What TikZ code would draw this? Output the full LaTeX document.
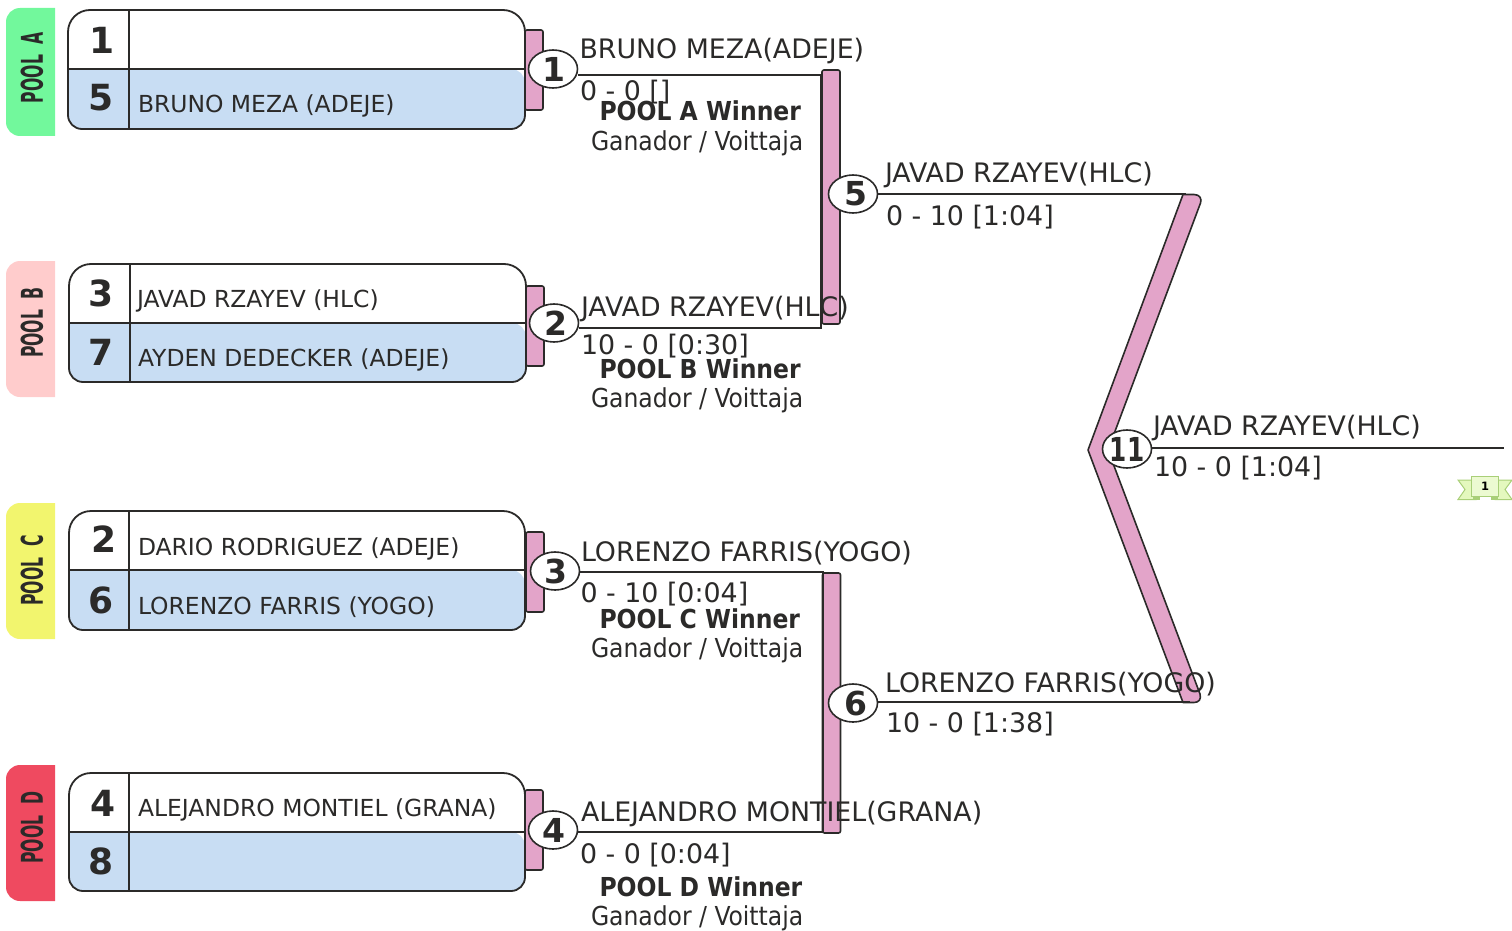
\documentclass[tikz,border=0pt]{standalone}
\usepackage{fontspec}
\setmainfont{DejaVu Sans}
\newfontfamily\cond{DejaVu Sans Condensed}
\usetikzlibrary{shapes.geometric}
\definecolor{ink}{HTML}{2B2A29}
\definecolor{rowblue}{HTML}{C8DDF3}
\definecolor{barpink}{HTML}{E3A4C9}
\definecolor{poola}{HTML}{72F89C}
\definecolor{poolb}{HTML}{FFCCCC}
\definecolor{poolc}{HTML}{F2F56E}
\definecolor{poold}{HTML}{EF4A60}
\definecolor{ribbon}{HTML}{E4F8BE}
\definecolor{ribbonline}{HTML}{A9CF78}
\newcommand{\fs}[1]{\fontsize{#1}{#1}\selectfont}
\tikzset{
  x=1pt,y=-1pt,
  txt/.style={inner sep=0pt,outer sep=0pt,anchor=base west,text=ink},
  player/.style={txt,font=\fs{23.45}},
  winner/.style={txt,font=\fs{26.8}},
  score/.style={txt,font=\fs{26.85}},
  pooltitle/.style={txt,font=\cond\bfseries\fs{26.1}},
  poolsub/.style={txt,font=\cond\fs{26.1}},
  seed/.style={inner sep=0pt,text=ink,font=\bfseries\fs{36}},
  poollabel/.style={inner sep=0pt,text=ink,rotate=90,font=\cond\bfseries\fs{30}},
  bout/.style={ellipse,draw=ink,fill=white,line width=1.6pt,minimum width=49pt,minimum height=38pt,inner sep=0pt,text=ink,font=\bfseries\fs{33}},
  barbox/.style={rectangle,draw=ink,fill=barpink,line width=1.6pt,rounded corners=2pt,inner sep=0pt},
  wire/.style={draw=ink,line width=1.6pt},
  frame/.style={draw=ink,line width=1.8pt},
  ribbonpart/.style={draw=ribbonline,fill=ribbon,line width=1pt},
}
\newcommand{\pooltab}[3]{% ytop ybot colour
  \fill[#3,rounded corners=14pt] (55,#1) [sharp corners] -- (30,#1) [rounded corners=14pt] -- (6,#1) -- (6,#2) [sharp corners] -- (30,#2) -- (55,#2) -- cycle;
}
\newcommand{\entry}[6]{% x0 x1 ytop ymid ybot xv
  \fill[white,rounded corners=22pt] (#1,#4) -- (#1,#3) -- (#2,#3) -- (#2,#4) [sharp corners] -- cycle;
  \fill[rowblue,rounded corners=14pt] (#1,#4) -- (#1,#5) -- (#2,#5) -- (#2,#4) [sharp corners] -- cycle;
  \draw[frame,rounded corners=22pt] (#1,#4) -- (#1,#3) -- (#2,#3) -- (#2,#4);
  \draw[frame,rounded corners=14pt] (#2,#4) -- (#2,#5) -- (#1,#5) -- (#1,#4);
  \draw[frame] (#1,#4) -- (#2,#4);
  \draw[frame,line width=1.4pt] (#6,#3) -- (#6,#5);
}
\begin{document}
\begin{tikzpicture}
\useasboundingbox (0,0) rectangle (1512,931);
% pool tabs
\pooltab{8}{136}{poola}
\pooltab{261}{397}{poolb}
\pooltab{503}{639}{poolc}
\pooltab{765}{901}{poold}
\node[poollabel] (pa) at (32,67.5) {\scalebox{0.58}[1]{POOL\ \ A}};
\node[poollabel] (pb) at (32,322.5) {\scalebox{0.58}[1]{POOL\ \ B}};
\node[poollabel] (pc) at (32,570.5) {\scalebox{0.58}[1]{POOL\ \ C}};
\node[poollabel] (pd) at (32,827.5) {\scalebox{0.58}[1]{POOL\ \ D}};
% first-round bars
\node[barbox,minimum width=18pt,minimum height=80pt] (b1) at (534,70) {};
\node[barbox,minimum width=18pt,minimum height=80pt] (b2) at (535,326) {};
\node[barbox,minimum width=18pt,minimum height=80pt] (b3) at (535,572) {};
\node[barbox,minimum width=18pt,minimum height=80pt] (b4) at (534,830) {};
% entries
\entry{68}{525}{10}{69}{129}{129}
\entry{69}{526}{264}{323}{382}{130}
\entry{69}{525}{511}{570}{630}{129}
\entry{69}{525}{773}{832}{891}{129}
\node[seed] (s1) at (102,40) {1};
\node[seed] (s5) at (101,98) {5};
\node[seed] (s3) at (101,293) {3};
\node[seed] (s7) at (101,352) {7};
\node[seed] (s2) at (104,539) {2};
\node[seed] (s6) at (101,600) {6};
\node[seed] (s4) at (103,803) {4};
\node[seed] (s8) at (101,861) {8};
\node[player] (e5) at (138,113) {BRUNO MEZA (ADEJE)};
\node[player] (e3) at (137,307) {JAVAD RZAYEV (HLC)};
\node[player] (e7) at (138,366) {AYDEN DEDECKER (ADEJE)};
\node[player] (e2) at (138,555) {DARIO RODRIGUEZ (ADEJE)};
\node[player] (e6) at (138,614) {LORENZO FARRIS (YOGO)};
\node[player] (e4) at (138,816) {ALEJANDRO MONTIEL (GRANA)};
% second-round bars
\node[barbox,minimum width=18pt,minimum height=254pt] (b5) at (831,197) {};
\node[barbox,minimum width=18pt,minimum height=260pt] (b6) at (831.5,703) {};
% final chevron
\draw[draw=ink,fill=barpink,line width=1.6pt,line join=round] (1183,194.5) -- (1194,194.5) .. controls (1200,194.5) and (1202,199) .. (1200.5,203) -- (1108,450) -- (1200,694) .. controls (1201.5,699) and (1199,702.5) .. (1194,702.5) -- (1183,702.5) -- (1088,450) -- cycle;
% bouts
\node[bout] (m1) at (553,69) {\kern2pt 1};
\node[bout] (m2) at (554,323) {\kern3pt 2};
\node[bout] (m3) at (555,571) {\kern2pt 3};
\node[bout] (m4) at (553,830) {\kern2pt 4};
\node[bout] (m5) at (853,194) {\kern5pt 5};
\node[bout] (m6) at (853,703) {\kern5pt 6};
\node[bout] (m11) at (1127,449) {\scalebox{0.75}[1]{11}};
% connectors
\coordinate (c1) at (821,75);
\coordinate (c2) at (821,328);
\coordinate (c3) at (823,572);
\coordinate (c4) at (823,832);
\coordinate (c5) at (1186,194);
\coordinate (c6) at (1190,702);
\coordinate (c11) at (1504,448);
\draw[wire] (m1.east |- c1) -- (c1) -- (c2) -- (m2.east |- c2);
\draw[wire] (m3.east |- c3) -- (c3) -- (c4) -- (m4.east |- c4);
\draw[wire] (m5.east) -- (c5);
\draw[wire] (m6.east |- c6) -- (c6);
\draw[wire] (m11.east |- c11) -- (c11);
% winner texts
\node[winner] (w1) at (579.5,59) {BRUNO MEZA(ADEJE)};
\node[score] (r1) at (580,101) {0 - 0 []};
\node[pooltitle] (t1) at (599.5,121) {POOL A Winner};
\node[poolsub] (g1) at (591,150) {Ganador / Voittaja};
\node[winner] (w2) at (581,316) {JAVAD RZAYEV(HLC)};
\node[score] (r2) at (581,354) {10 - 0 [0:30]};
\node[pooltitle] (t2) at (599.5,378) {POOL B Winner};
\node[poolsub] (g2) at (591,407) {Ganador / Voittaja};
\node[winner] (w3) at (581,561) {LORENZO FARRIS(YOGO)};
\node[score] (r3) at (580.5,602) {0 - 10 [0:04]};
\node[pooltitle] (t3) at (599.5,628) {POOL C Winner};
\node[poolsub] (g3) at (591,657) {Ganador / Voittaja};
\node[winner] (w4) at (581,821) {ALEJANDRO MONTIEL(GRANA)};
\node[score] (r4) at (580,863) {0 - 0 [0:04]};
\node[pooltitle] (t4) at (599.5,896) {POOL D Winner};
\node[poolsub] (g4) at (591,925) {Ganador / Voittaja};
\node[winner] (w5) at (885,182) {JAVAD RZAYEV(HLC)};
\node[score] (r5) at (886,225) {0 - 10 [1:04]};
\node[winner] (w6) at (885,692) {LORENZO FARRIS(YOGO)};
\node[score] (r6) at (886,732) {10 - 0 [1:38]};
\node[winner] (w11) at (1153,435) {JAVAD RZAYEV(HLC)};
\node[score] (r11) at (1154,476) {10 - 0 [1:04]};
% ribbon
\draw[ribbonpart] (1458,480) -- (1476,480) -- (1476,499.5) -- (1458,499.5) -- (1465,489.5) -- cycle;
\draw[ribbonpart] (1512,480) -- (1495,480) -- (1495,499.5) -- (1512,499.5) -- (1505,489.5) -- cycle;
\fill[ribbonline] (1473,496) rectangle (1480,500);
\fill[ribbonline] (1491,496) rectangle (1498,500);
\node[rectangle,draw=ribbonline,fill=ribbon!70!white,line width=1pt,minimum width=27pt,minimum height=20pt,inner sep=0pt,text=black,font=\bfseries\fs{11.5}] (rb) at (1485,486.5) {1};
\end{tikzpicture}
\end{document}
